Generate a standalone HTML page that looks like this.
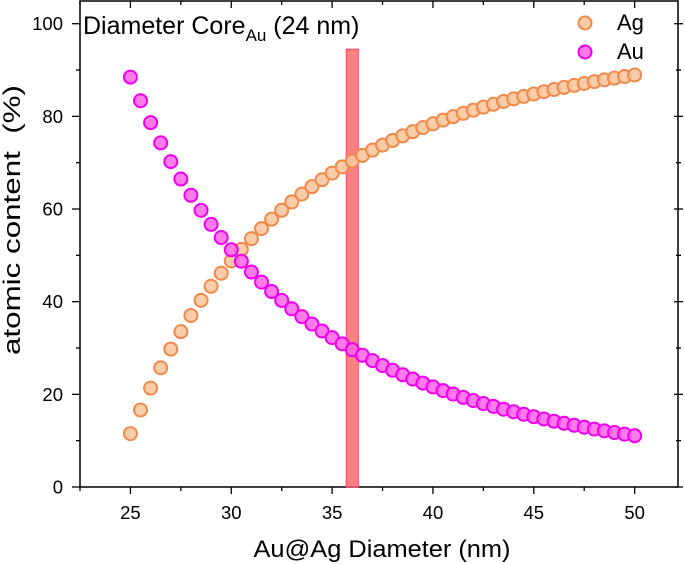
<!DOCTYPE html>
<html><head><meta charset="utf-8"><style>
body{margin:0;background:#fff;}
svg{display:block;font-family:"Liberation Sans",Arial,sans-serif;}
</style></head><body>
<svg id="chart" width="685" height="564"></svg>
<script>
const diameters=[25,25.5,26,26.5,27,27.5,28,28.5,29,29.5,30,30.5,31,31.5,32,32.5,33,33.5,34,34.5,35,35.5,36,36.5,37,37.5,38,38.5,39,39.5,40,40.5,41,41.5,42,42.5,43,43.5,44,44.5,45,45.5,46,46.5,47,47.5,48,48.5,49,49.5,50];
const auValues=[88.47,83.37,78.65,74.28,70.23,66.47,62.97,59.72,56.68,53.85,51.20,48.72,46.40,44.23,42.19,40.27,38.47,36.77,35.17,33.67,32.24,30.90,29.63,28.43,27.29,26.21,25.19,24.22,23.30,22.43,21.60,20.81,20.06,19.34,18.66,18.01,17.39,16.79,16.23,15.69,15.17,14.68,14.20,13.75,13.32,12.90,12.50,12.12,11.75,11.40,11.06];
const agValues=[11.53,16.63,21.35,25.72,29.77,33.53,37.03,40.28,43.32,46.15,48.80,51.28,53.60,55.77,57.81,59.73,61.53,63.23,64.83,66.33,67.76,69.10,70.37,71.57,72.71,73.79,74.81,75.78,76.70,77.57,78.40,79.19,79.94,80.66,81.34,81.99,82.61,83.21,83.77,84.31,84.83,85.32,85.80,86.25,86.68,87.10,87.50,87.88,88.25,88.60,88.94];
const xTicks=[25,30,35,40,45,50];
const yTicks=[0,20,40,60,80,100];
const markerBand=[35.7,36.3,94.5];

const L=80,R=678,T=1,B=487;
const xMin=22.5,xMax=52.15,yMin=0,yMax=104.9;
const sx=v=>L+(v-xMin)/(xMax-xMin)*(R-L);
const sy=v=>B-(v-yMin)/(yMax-yMin)*(B-T);
const svg=document.getElementById('chart');
const NS='http://www.w3.org/2000/svg';
function mk(tag,attrs,parent){const e=document.createElementNS(NS,tag);for(const k in attrs)e.setAttribute(k,attrs[k]);(parent||svg).appendChild(e);return e;}

let f=mk('rect',{x:L,y:T,width:R-L,height:B-T,fill:'none',stroke:'#000','stroke-width':1.5});



for(let v=22.5;v<=52.1;v+=2.5){
  const major=xTicks.includes(v);const len=major?7:4;
  let t=mk('line',{x1:sx(v),x2:sx(v),y1:B,y2:B+len,stroke:'#000','stroke-width':1.3});
  
  
  let t2=mk('line',{x1:sx(v),x2:sx(v),y1:T,y2:T+len,stroke:'#000','stroke-width':1.3});
  
  
}
xTicks.forEach(v=>{
  let t=mk('text',{x:sx(v),y:B+32,'text-anchor':'middle','font-size':18.5,fill:'#000'});
  t.textContent=v;
  
  
});
for(let v=0;v<=104;v+=10){
  const major=yTicks.includes(v);const len=major?8:4;
  let t=mk('line',{x1:L-len,x2:L,y1:sy(v),y2:sy(v),stroke:'#000','stroke-width':1.3});
  
  
  let t2=mk('line',{x1:R-len/2,x2:R+len/2+1,y1:sy(v),y2:sy(v),stroke:'#000','stroke-width':1.3});
  
  
}
yTicks.forEach(v=>{
  let t=mk('text',{x:L-17,y:sy(v)+6.5,'text-anchor':'end','font-size':18.5,fill:'#000'});
  t.textContent=v;
  
  
});

let band=mk('rect',{x:sx(markerBand[0]),y:sy(markerBand[2]),width:sx(markerBand[1])-sx(markerBand[0]),height:B-sy(markerBand[2]),fill:'rgba(255,80,80,0.72)',stroke:'#ff4070','stroke-width':1});



diameters.forEach((d,i)=>{
  let c=mk('circle',{cx:sx(d),cy:sy(agValues[i]),r:6.5,fill:'rgba(248,200,160,0.9)',stroke:'#f0894a','stroke-width':2});
  
  
});
diameters.forEach((d,i)=>{
  let c=mk('circle',{cx:sx(d),cy:sy(auValues[i]),r:6.5,fill:'rgba(255,100,230,0.85)',stroke:'#ee00ee','stroke-width':2});
  
  
});

let la=mk('circle',{cx:585,cy:23,r:6.5,fill:'rgba(248,200,160,0.9)',stroke:'#f0894a','stroke-width':2});


let lat=mk('text',{x:617,y:30,'font-size':22});lat.textContent='Ag';


let lu=mk('circle',{cx:585,cy:52,r:6.5,fill:'rgba(255,100,230,0.85)',stroke:'#ee00ee','stroke-width':2});


let lut=mk('text',{x:617,y:59,'font-size':22});lut.textContent='Au';


</script>
<svg style="position:absolute;left:0;top:0" width="685" height="564">
<text x="83" y="34" font-size="25" font-family="Liberation Sans, sans-serif">Diameter Core<tspan font-size="17" dy="7">Au</tspan><tspan dy="-7"> (24 nm)</tspan></text>
<text x="382" y="557" font-size="24" text-anchor="middle" textLength="257" lengthAdjust="spacingAndGlyphs" font-family="Liberation Sans, sans-serif">Au@Ag Diameter (nm)</text>
<text transform="translate(20,220) rotate(-90)" font-size="24" text-anchor="middle" textLength="270" lengthAdjust="spacingAndGlyphs" font-family="Liberation Sans, sans-serif" xml:space="preserve">atomic content  (%)</text>
</svg>
</body></html>
